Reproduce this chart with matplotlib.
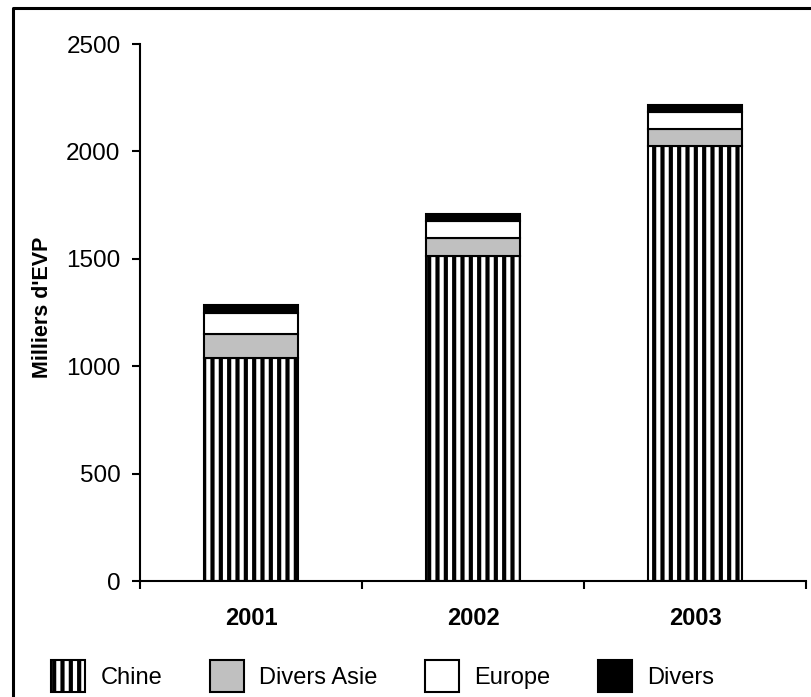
# -*- coding: utf-8 -*
"""
Trafic conteneurs (milliers d'EVP), 2001-2003, barres empilées
"""
import matplotlib
matplotlib.use('Agg')
import matplotlib.pyplot as plt
from matplotlib.lines import Line2D
import numpy as np

plt.rcParams['font.family'] = ['Liberation Sans', 'DejaVu Sans']
plt.rcParams['hatch.linewidth'] = 3.0
plt.rcParams['hatch.color'] = 'black'

annees = ['2001', '2002', '2003']
chine = [1040, 1515, 2025]
divers_asie = [110, 80, 80]
europe = [100, 80, 80]
divers = [35, 35, 30]

fig = plt.figure(figsize=(8.11, 6.97), dpi=100)
ax = fig.add_axes([140 / 811, 1 - 581 / 697, 666 / 811, 537 / 697])

x = np.arange(len(annees))
w = 0.42
bas = np.zeros(len(annees))
series = [
    (chine, 'Chine', dict(color='white', hatch='||')),
    (divers_asie, 'Divers Asie', dict(color='#c0c0c0')),
    (europe, 'Europe', dict(color='white')),
    (divers, 'Divers', dict(color='black')),
]
for vals, nom, style in series:
    ax.bar(x, vals, w, bottom=bas, label=nom, edgecolor='black', linewidth=1.5, **style)
    bas += np.array(vals)

ax.set_xlim(-0.5, 2.5)
ax.set_ylim(0, 2500)
ax.set_yticks(np.arange(0, 2501, 500))
ax.set_xticks(x)
ax.set_xticklabels(annees, fontweight='bold', fontsize=17)
ax.set_xticks([-0.5, 0.5, 1.5, 2.5], minor=True)
ax.tick_params(axis='x', which='major', length=0, pad=19)
ax.tick_params(axis='x', which='minor', length=6, width=1.5, direction='out')
ax.tick_params(axis='y', length=6, width=1.5, direction='out', labelsize=17.5, pad=8)

for s in ['top', 'right']:
    ax.spines[s].set_visible(False)
for s in ['left', 'bottom']:
    ax.spines[s].set_linewidth(1.5)

ax.set_ylabel("Milliers d'EVP", fontweight='bold', fontsize=15.5)
ax.yaxis.set_label_coords(-0.130, 0.51)

leg = fig.legend(loc='center left', bbox_to_anchor=(51 / 811, 1 - 676 / 697), ncol=4,
                 frameon=False, fontsize=17, handlelength=1.45, handleheight=1.75,
                 handletextpad=0.65, columnspacing=2.0, borderaxespad=0, borderpad=0)

# cadre (coupé à droite et en bas)
y0 = 1 - 8 / 697
x0 = 13 / 811
fig.add_artist(Line2D([x0, x0, 1.0], [0, y0, y0], color='black', linewidth=2.2,
                      transform=fig.transFigure))

plt.savefig('out.png', dpi=100)
plt.close()
